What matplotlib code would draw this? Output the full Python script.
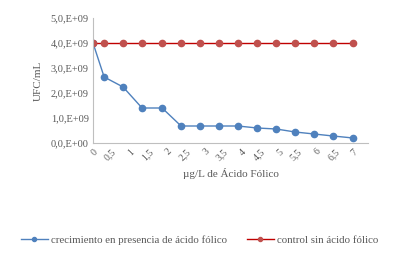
import numpy as np
import matplotlib
matplotlib.use("Agg")
import matplotlib.pyplot as plt

# datos
conc = [0, 0.3, 0.81, 1.32, 1.86, 2.37, 2.88, 3.39, 3.9, 4.42, 4.93, 5.44, 5.95, 6.46, 7.0]
ufc_acido = [4.0e9, 2.64e9, 2.24e9, 1.40e9, 1.40e9, 0.68e9, 0.68e9, 0.68e9, 0.68e9,
             0.60e9, 0.56e9, 0.44e9, 0.36e9, 0.28e9, 0.20e9]
ufc_control = [4.0e9] * 15
xticks = np.arange(0, 7.5, 0.5)
xtick_labels = ["0", "0,5", "1", "1,5", "2", "2,5", "3", "3,5", "4", "4,5",
                "5", "5,5", "6", "6,5", "7"]
yticks = [0, 1e9, 2e9, 3e9, 4e9, 5e9]
ytick_labels = ["0,0,E+00", "1,0,E+09", "2,0,E+09", "3,0,E+09", "4,0,E+09", "5,0,E+09"]

plt.rcParams['font.family'] = ['Liberation Serif', 'DejaVu Serif']
grey = "#595959"

fig = plt.figure(figsize=(3.99, 2.61), dpi=100)
ax = fig.add_axes([93/399, (261-143)/261, (368-93)/399, 125/261])

ax.plot(conc, ufc_acido, color="#4F81BD", lw=1.0, marker="o", ms=4.5,
        label="crecimiento en presencia de ácido fólico")
ax.plot(conc, ufc_control, color="#C00000", lw=1.0, marker="o", ms=4.5,
        mfc="#C0504D", mec="#C0504D", label="control sin ácido fólico")

ax.set_xlim(0, 7.4)
ax.set_ylim(0, 5e9)
ax.set_xticks(xticks)
ax.set_xticklabels(xtick_labels, rotation=45, ha="right", va="top",
                   rotation_mode="anchor", fontsize=7, color=grey)
ax.set_yticks(yticks)
ax.set_yticklabels(ytick_labels, fontsize=7.5, color=grey)
ax.tick_params(length=0, pad=3)
for s in ["top", "right"]:
    ax.spines[s].set_visible(False)
for s in ["left", "bottom"]:
    ax.spines[s].set_color("#BFBFBF")
    ax.spines[s].set_linewidth(0.8)

ax.set_ylabel("UFC/mL", fontsize=8, color=grey, labelpad=6)
ax.set_xlabel("µg/L de Ácido Fólico", fontsize=8, color=grey, labelpad=4)

fig.legend(loc="lower center", bbox_to_anchor=(0.5, 0.025), ncol=2, frameon=False,
           fontsize=7.8, labelcolor=grey, handlelength=2.5, columnspacing=1.8,
           handletextpad=0.3, markerscale=0.65)

fig.savefig("out.png", dpi=100)
